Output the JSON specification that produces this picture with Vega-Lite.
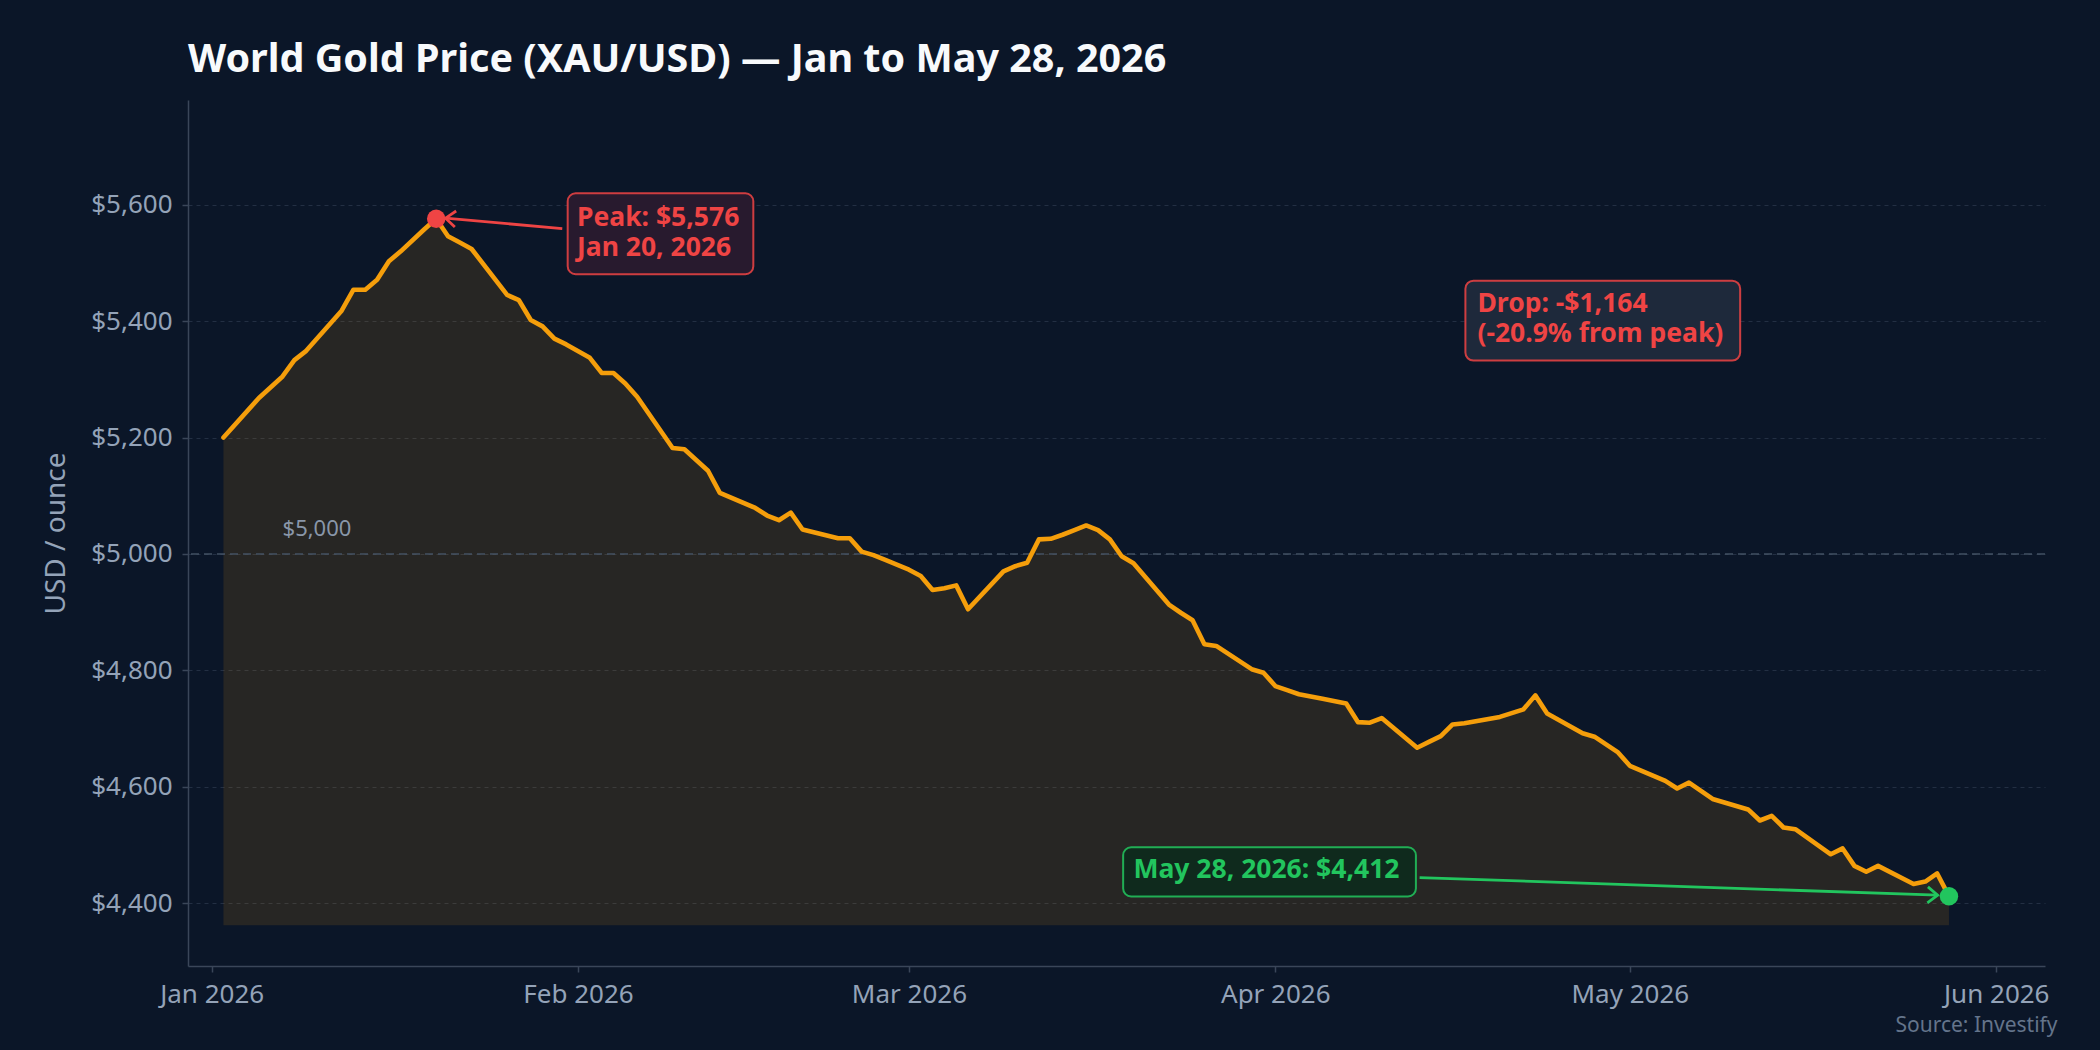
{
  "$schema": "https://vega.github.io/schema/vega-lite/v6.json",
  "description": "World gold price XAU/USD, Jan to May 28 2026",
  "width": 1857,
  "height": 866,
  "autosize": {"type": "none"},
  "padding": {"left": 188, "top": 100, "right": 55, "bottom": 84},
  "background": "#0b1628",
  "title": {
    "text": "World Gold Price (XAU/USD) — Jan to May 28, 2026",
    "anchor": "start",
    "frame": "group",
    "font": "Noto Sans",
    "fontSize": 39.5,
    "fontWeight": "bold",
    "color": "#f8fafc",
    "offset": 20
  },
  "config": {
    "font": "Noto Sans",
    "view": {"stroke": null}
  },
  "datasets": {
    "series": [
      {"date": "2026-01-02", "price": 5200},
      {"date": "2026-01-05", "price": 5268},
      {"date": "2026-01-07", "price": 5305},
      {"date": "2026-01-08", "price": 5333},
      {"date": "2026-01-09", "price": 5349},
      {"date": "2026-01-12", "price": 5418},
      {"date": "2026-01-13", "price": 5454},
      {"date": "2026-01-14", "price": 5454},
      {"date": "2026-01-15", "price": 5471},
      {"date": "2026-01-16", "price": 5503},
      {"date": "2026-01-17", "price": 5520},
      {"date": "2026-01-19", "price": 5558},
      {"date": "2026-01-20", "price": 5576},
      {"date": "2026-01-21", "price": 5546},
      {"date": "2026-01-22", "price": 5535},
      {"date": "2026-01-23", "price": 5524},
      {"date": "2026-01-26", "price": 5445},
      {"date": "2026-01-27", "price": 5436},
      {"date": "2026-01-28", "price": 5402},
      {"date": "2026-01-29", "price": 5391},
      {"date": "2026-01-30", "price": 5370},
      {"date": "2026-01-31", "price": 5360},
      {"date": "2026-02-02", "price": 5337},
      {"date": "2026-02-03", "price": 5311},
      {"date": "2026-02-04", "price": 5311},
      {"date": "2026-02-05", "price": 5293},
      {"date": "2026-02-06", "price": 5270},
      {"date": "2026-02-09", "price": 5182},
      {"date": "2026-02-10", "price": 5180},
      {"date": "2026-02-12", "price": 5143},
      {"date": "2026-02-13", "price": 5105},
      {"date": "2026-02-16", "price": 5079},
      {"date": "2026-02-17", "price": 5066},
      {"date": "2026-02-18", "price": 5058},
      {"date": "2026-02-19", "price": 5071},
      {"date": "2026-02-20", "price": 5042},
      {"date": "2026-02-23", "price": 5027},
      {"date": "2026-02-24", "price": 5027},
      {"date": "2026-02-25", "price": 5004},
      {"date": "2026-02-26", "price": 4998},
      {"date": "2026-02-27", "price": 4990},
      {"date": "2026-03-01", "price": 4973},
      {"date": "2026-03-02", "price": 4962},
      {"date": "2026-03-03", "price": 4938},
      {"date": "2026-03-04", "price": 4941},
      {"date": "2026-03-05", "price": 4946},
      {"date": "2026-03-06", "price": 4905},
      {"date": "2026-03-09", "price": 4970},
      {"date": "2026-03-10", "price": 4979},
      {"date": "2026-03-11", "price": 4985},
      {"date": "2026-03-12", "price": 5025},
      {"date": "2026-03-13", "price": 5026},
      {"date": "2026-03-14", "price": 5033},
      {"date": "2026-03-15", "price": 5041},
      {"date": "2026-03-16", "price": 5049},
      {"date": "2026-03-17", "price": 5041},
      {"date": "2026-03-18", "price": 5025},
      {"date": "2026-03-19", "price": 4996},
      {"date": "2026-03-20", "price": 4984},
      {"date": "2026-03-23", "price": 4913},
      {"date": "2026-03-24", "price": 4899},
      {"date": "2026-03-25", "price": 4886},
      {"date": "2026-03-26", "price": 4845},
      {"date": "2026-03-27", "price": 4842},
      {"date": "2026-03-30", "price": 4802},
      {"date": "2026-03-31", "price": 4796},
      {"date": "2026-04-01", "price": 4773},
      {"date": "2026-04-02", "price": 4766},
      {"date": "2026-04-03", "price": 4759},
      {"date": "2026-04-05", "price": 4751},
      {"date": "2026-04-07", "price": 4743},
      {"date": "2026-04-08", "price": 4711},
      {"date": "2026-04-09", "price": 4710},
      {"date": "2026-04-10", "price": 4718},
      {"date": "2026-04-13", "price": 4667},
      {"date": "2026-04-14", "price": 4677},
      {"date": "2026-04-15", "price": 4687},
      {"date": "2026-04-16", "price": 4707},
      {"date": "2026-04-17", "price": 4709},
      {"date": "2026-04-20", "price": 4720},
      {"date": "2026-04-22", "price": 4733},
      {"date": "2026-04-23", "price": 4757},
      {"date": "2026-04-24", "price": 4726},
      {"date": "2026-04-27", "price": 4692},
      {"date": "2026-04-28", "price": 4686},
      {"date": "2026-04-30", "price": 4659},
      {"date": "2026-05-01", "price": 4636},
      {"date": "2026-05-04", "price": 4610},
      {"date": "2026-05-05", "price": 4597},
      {"date": "2026-05-06", "price": 4607},
      {"date": "2026-05-08", "price": 4579},
      {"date": "2026-05-11", "price": 4561},
      {"date": "2026-05-12", "price": 4542},
      {"date": "2026-05-13", "price": 4550},
      {"date": "2026-05-14", "price": 4530},
      {"date": "2026-05-15", "price": 4527},
      {"date": "2026-05-18", "price": 4484},
      {"date": "2026-05-19", "price": 4494},
      {"date": "2026-05-20", "price": 4464},
      {"date": "2026-05-21", "price": 4454},
      {"date": "2026-05-22", "price": 4464},
      {"date": "2026-05-25", "price": 4433},
      {"date": "2026-05-26", "price": 4437},
      {"date": "2026-05-27", "price": 4451},
      {"date": "2026-05-28", "price": 4412}
    ],
    "refs": [
      {"date": "2026-01-07", "price": 5000, "label": "$5,000"}
    ],
    "arrows": [
      {"tone": "peak", "date": "2026-01-30T16:00Z", "price": 5559, "date2": "2026-01-20T19:00Z", "price2": 5577},
      {"tone": "current", "date": "2026-04-13T05:00Z", "price": 4444, "date2": "2026-05-27T01:00Z", "price2": 4413.7}
    ],
    "boxes": [
      {"tone": "peak", "date": "2026-01-31T03:00Z", "date2": "2026-02-15T20:00Z", "price": 5619.7, "price2": 5480.7},
      {"tone": "drop", "date": "2026-04-17T02:00Z", "date2": "2026-05-10T08:00Z", "price": 5469.5, "price2": 5332.2},
      {"tone": "current", "date": "2026-03-19T03:00Z", "date2": "2026-04-12T21:30Z", "price": 4496, "price2": 4411.5}
    ],
    "labels": [
      {"tone": "peak", "date": "2026-01-31T22:00Z", "price": 5564, "label": "Peak: $5,576\nJan 20, 2026"},
      {"tone": "drop", "date": "2026-04-18T02:30Z", "price": 5415.8, "label": "Drop: -$1,164\n(-20.9% from peak)"},
      {"tone": "current", "date": "2026-03-20T00:00Z", "price": 4442.6, "label": "May 28, 2026: $4,412"}
    ],
    "points": [
      {"tone": "peak", "date": "2026-01-20", "price": 5576},
      {"tone": "current", "date": "2026-05-28", "price": 4412}
    ]
  },
  "layer": [
    {
      "data": {"name": "series"},
      "mark": {"type": "area", "fill": "#f59e0b", "fillOpacity": 0.12},
      "encoding": {
        "x": {
          "field": "date",
          "type": "temporal",
          "scale": {
            "type": "utc",
            "nice": false,
            "domain": [
              {"year": 2025, "month": 12, "date": 30, "utc": true},
              {"year": 2026, "month": 6, "date": 5, "hours": 3, "utc": true}
            ]
          },
          "axis": {
            "title": "Source: Investify",
            "titleX": 1869,
            "titleY": 65,
            "titleAlign": "right",
            "titleBaseline": "alphabetic",
            "titleColor": "#64748b",
            "titleFontSize": 21,
            "titleFontWeight": "normal",
            "values": [
              {"year": 2026, "month": 1, "date": 1, "utc": true},
              {"year": 2026, "month": 2, "date": 1, "utc": true},
              {"year": 2026, "month": 3, "date": 1, "utc": true},
              {"year": 2026, "month": 4, "date": 1, "utc": true},
              {"year": 2026, "month": 5, "date": 1, "utc": true},
              {"year": 2026, "month": 6, "date": 1, "utc": true}
            ],
            "labelExpr": "utcFormat(datum.value, '%b %Y')",
            "grid": false,
            "labelFlush": false,
            "labelOverlap": false,
            "labelColor": "#94a3b8",
            "labelFontSize": 26,
            "labelPadding": 9,
            "tickSize": 6,
            "tickWidth": 1.5,
            "tickColor": "#3a4659",
            "domainColor": "#3a4659",
            "domainWidth": 1.5
          }
        },
        "y": {
          "field": "price",
          "type": "quantitative",
          "scale": {"domain": [4292, 5780], "nice": false, "zero": false},
          "axis": {
            "title": "USD / ounce",
            "titleColor": "#94a3b8",
            "titleFontSize": 28,
            "titleFontWeight": "normal",
            "titlePadding": 20,
            "values": [4400, 4600, 4800, 5000, 5200, 5400, 5600],
            "format": "$,.0f",
            "grid": true,
            "gridColor": "#334155",
            "gridOpacity": 0.6,
            "gridDash": [4, 4],
            "gridWidth": 1,
            "labelColor": "#94a3b8",
            "labelFontSize": 26,
            "labelPadding": 10,
            "tickSize": 6,
            "tickWidth": 1.5,
            "tickColor": "#3a4659",
            "domainColor": "#3a4659",
            "domainWidth": 1.5
          }
        },
        "y2": {"datum": 4362}
      }
    },
    {
      "data": {"name": "refs"},
      "mark": {"type": "rule", "color": "#475569", "strokeWidth": 1.5, "strokeDash": [8, 5], "opacity": 0.9},
      "encoding": {
        "y": {"field": "price", "type": "quantitative"}
      }
    },
    {
      "data": {"name": "refs"},
      "mark": {"type": "text", "align": "left", "baseline": "bottom", "dy": -13, "fontSize": 22, "color": "#94a3b8", "opacity": 0.9},
      "encoding": {
        "x": {"field": "date", "type": "temporal"},
        "y": {"field": "price", "type": "quantitative"},
        "text": {"field": "label"}
      }
    },
    {
      "data": {"name": "series"},
      "mark": {"type": "line", "color": "#f59e0b", "strokeWidth": 4.6, "strokeJoin": "round", "strokeCap": "round"},
      "encoding": {
        "x": {"field": "date", "type": "temporal"},
        "y": {"field": "price", "type": "quantitative"}
      }
    },
    {
      "data": {"name": "arrows"},
      "mark": {"type": "rule", "strokeWidth": 2.8},
      "encoding": {
        "x": {"field": "date", "type": "temporal"},
        "x2": {"field": "date2"},
        "y": {"field": "price", "type": "quantitative"},
        "y2": {"field": "price2"},
        "color": {
          "field": "tone",
          "type": "nominal",
          "scale": {"domain": ["peak", "drop", "current"], "range": ["#ef4444", "#ef4444", "#22c55e"]},
          "legend": null
        }
      }
    },
    {
      "data": {"name": "boxes"},
      "mark": {"type": "rect", "cornerRadius": 8, "strokeWidth": 2, "strokeOpacity": 0.85},
      "encoding": {
        "x": {"field": "date", "type": "temporal"},
        "x2": {"field": "date2"},
        "y": {"field": "price", "type": "quantitative"},
        "y2": {"field": "price2"},
        "fill": {
          "field": "tone",
          "type": "nominal",
          "scale": {"domain": ["peak", "drop", "current"], "range": ["#281a2e", "#1e293b", "#0f2a1d"]},
          "legend": null
        },
        "stroke": {
          "field": "tone",
          "type": "nominal",
          "scale": {"domain": ["peak", "drop", "current"], "range": ["#ef4444", "#ef4444", "#22c55e"]},
          "legend": null
        }
      }
    },
    {
      "data": {"name": "labels"},
      "mark": {"type": "text", "align": "left", "baseline": "alphabetic", "fontSize": 26.5, "fontWeight": "bold", "lineBreak": "\n", "lineHeight": 30},
      "encoding": {
        "x": {"field": "date", "type": "temporal"},
        "y": {"field": "price", "type": "quantitative"},
        "text": {"field": "label"},
        "color": {"field": "tone", "type": "nominal", "legend": null}
      }
    },
    {
      "data": {"name": "arrows"},
      "transform": [{"filter": "datum.tone === 'peak'"}],
      "mark": {"type": "point", "shape": "M-1,-0.8L0,0L-1,0.8", "filled": false, "size": 400, "strokeWidth": 2.8, "angle": 184.7, "opacity": 1},
      "encoding": {
        "x": {"field": "date2", "type": "temporal"},
        "y": {"field": "price2", "type": "quantitative"},
        "color": {"field": "tone", "type": "nominal", "legend": null}
      }
    },
    {
      "data": {"name": "arrows"},
      "transform": [{"filter": "datum.tone === 'current'"}],
      "mark": {"type": "point", "shape": "M-1,-0.8L0,0L-1,0.8", "filled": false, "size": 400, "strokeWidth": 2.8, "angle": 2, "opacity": 1},
      "encoding": {
        "x": {"field": "date2", "type": "temporal"},
        "y": {"field": "price2", "type": "quantitative"},
        "color": {"field": "tone", "type": "nominal", "legend": null}
      }
    },
    {
      "data": {"name": "points"},
      "mark": {"type": "point", "filled": true, "size": 340, "opacity": 1},
      "encoding": {
        "x": {"field": "date", "type": "temporal"},
        "y": {"field": "price", "type": "quantitative"},
        "color": {"field": "tone", "type": "nominal", "legend": null}
      }
    }
  ]
}
